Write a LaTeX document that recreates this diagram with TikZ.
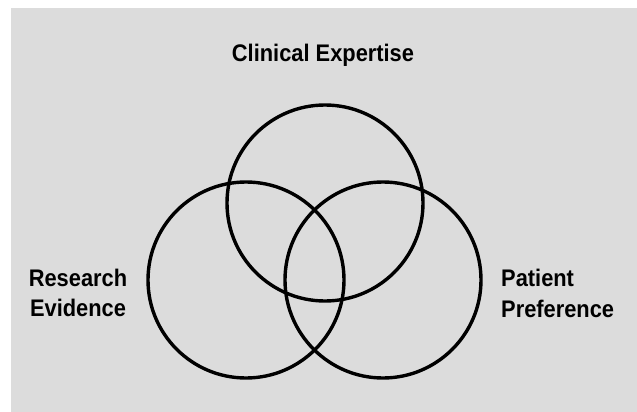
\documentclass[tikz,border=0pt]{standalone}
\usepackage{fontspec}
\setmainfont{Liberation Sans}[FakeStretch=0.91]
\definecolor{bggray}{HTML}{DCDCDC}
\begin{document}
\begin{tikzpicture}[x=1pt,y=-1pt,
  ring/.style={draw=black,line width=3.4pt},
  lab/.style={font=\fontsize{24}{30.5}\selectfont\bfseries,text=black,inner sep=0pt}]
\useasboundingbox (0,0) rectangle (637,412);
\fill[bggray] (11,8) rectangle (637,412);
\draw[ring] (325,203) circle (98);
\draw[ring] (246,280) circle (98);
\draw[ring] (383,280) circle (98);
\node[lab,anchor=base] (ce) at (323,62) {Clinical Expertise};
\node[lab,anchor=base,align=center] (re) at (78,316.5) {Research\\Evidence};
\node[lab,anchor=base west,align=left] (pp) at (501,317) {Patient\\Preference};
\end{tikzpicture}
\end{document}
